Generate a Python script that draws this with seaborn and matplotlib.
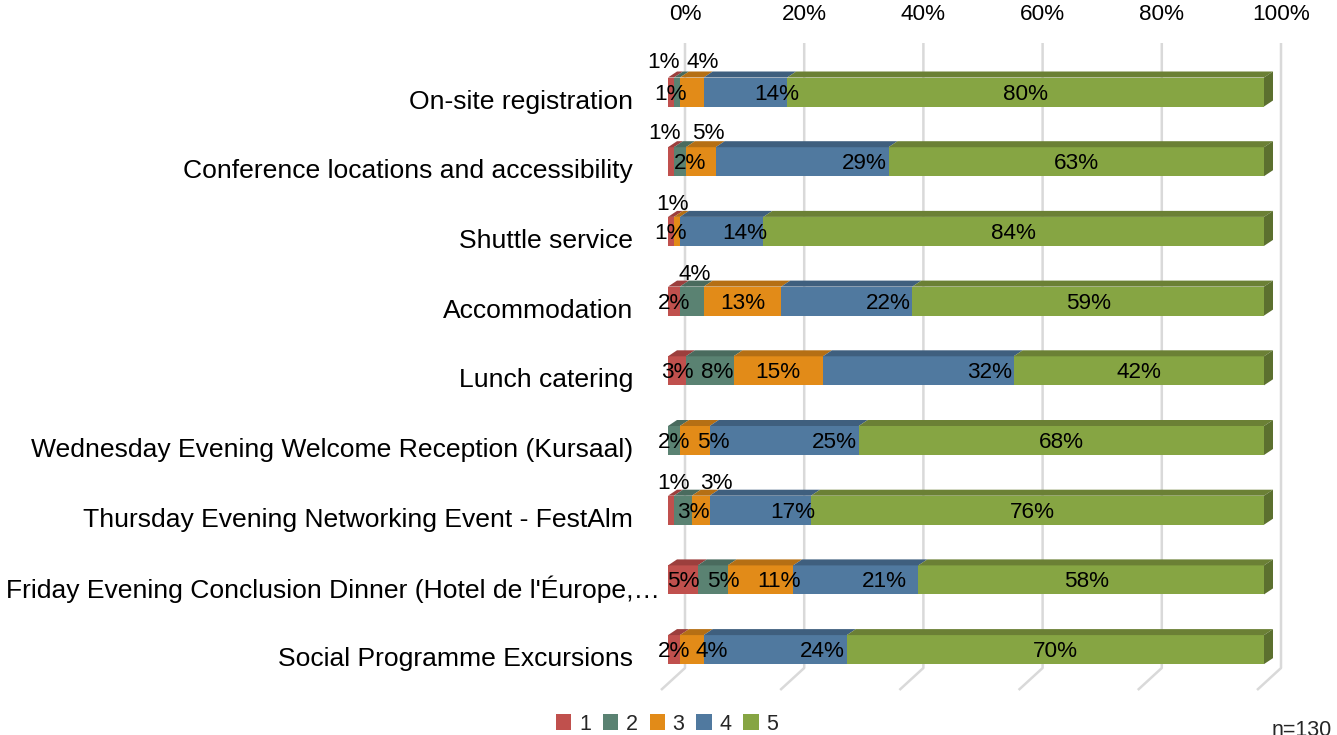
import matplotlib
matplotlib.use("Agg")
import matplotlib.pyplot as plt
from matplotlib.patches import Polygon, Patch
from matplotlib.transforms import ScaledTranslation
import numpy as np
import pandas as pd
import seaborn as sns

# ---- data -------------------------------------------------------------
categories = [
    "On-site registration",
    "Conference locations and accessibility",
    "Shuttle service",
    "Accommodation",
    "Lunch catering",
    "Wednesday Evening Welcome Reception (Kursaal)",
    "Thursday Evening Networking Event - FestAlm",
    "Friday Evening Conclusion Dinner (Hotel de l'Éurope,…",
    "Social Programme Excursions",
]
rating_1 = [1, 1, 1, 2, 3, 0, 1, 5, 2]
rating_2 = [1, 2, 0, 4, 8, 2, 3, 5, 0]
rating_3 = [4, 5, 1, 13, 15, 5, 3, 11, 4]
rating_4 = [14, 29, 14, 22, 32, 25, 17, 21, 24]
rating_5 = [80, 63, 84, 59, 42, 68, 76, 58, 70]
series_names = ["1", "2", "3", "4", "5"]
axis_ticks = [0, 20, 40, 60, 80, 100]
sample_note = "n=130"

# ---- style ------------------------------------------------------------
front_colors = ["#C0504D", "#5A8272", "#E28B18", "#50799F", "#86A543"]
top_colors = ["#9C3F3D", "#4A6B5E", "#B56F14", "#3F5F7E", "#6B8035"]
side_color = "#5C702F"
grid_color = "#D9D9D9"

sns.set_theme(style="white")
plt.rcParams["font.family"] = ["Liberation Sans", "DejaVu Sans"]

W, H, DPI = 1337, 735, 100
fig = plt.figure(figsize=(W / DPI, H / DPI), dpi=DPI)

# pixel geometry of the plotting frame
X0_PX, PX_PER_PCT = 668, 5.96          # 0% of the bar fronts, px per percent
Y0_PX, ROW_PX = 92, 69.7               # first bar centre, row pitch
AX_L, AX_R, AX_T, AX_B = 648, 1300, 43, 700
ax = fig.add_axes([AX_L / W, 1 - AX_B / H, (AX_R - AX_L) / W, (AX_B - AX_T) / H])

BAR_H = 29 / ROW_PX                    # bar thickness (category units)
DEPTH_DX = 9 / PX_PER_PCT              # 3-D depth offset of bars
DEPTH_DY = 6 / ROW_PX
WALL = 17 / PX_PER_PCT                 # back wall offset of gridlines
FLOOR_DX = 24 / PX_PER_PCT

series = [rating_1, rating_2, rating_3, rating_4, rating_5]
vals = np.array(series, dtype=float)          # shape (5, n)
cum = np.cumsum(vals, axis=0)
starts = cum - vals

# back wall + floor gridlines
y_top = (AX_T - Y0_PX) / ROW_PX
y_floor_back = (668 - Y0_PX) / ROW_PX
y_floor_front = (690 - Y0_PX) / ROW_PX
for v in axis_ticks:
    xb = v + WALL
    ax.plot([xb, xb, xb - FLOOR_DX], [y_top, y_floor_back, y_floor_front],
            color=grid_color, lw=1.8, zorder=0, solid_capstyle="butt",
            clip_on=False)

# front faces: stacked horizontal bars, drawn from the longest cumulative down
for k in range(4, -1, -1):
    df = pd.DataFrame({"category": categories, "value": cum[k]})
    sns.barplot(data=df, x="value", y="category", order=categories,
                orient="h", color=front_colors[k], saturation=1,
                width=BAR_H, linewidth=0, errorbar=None, ax=ax, zorder=2)

# top faces and right end face
n = len(categories)
for i in range(n):
    yb = i - BAR_H / 2
    yt = yb - DEPTH_DY
    last = None
    for k in range(5):
        if vals[k, i] <= 0:
            continue
        s, e = starts[k, i], cum[k, i]
        ax.add_patch(Polygon([(s, yb), (e, yb), (e + DEPTH_DX, yt), (s + DEPTH_DX, yt)],
                             closed=True, facecolor=top_colors[k], edgecolor="none",
                             zorder=3))
        last = e
    ax.add_patch(Polygon([(last, yb), (last + DEPTH_DX, yt),
                          (last + DEPTH_DX, yt + BAR_H), (last, yb + BAR_H)],
                         closed=True, facecolor=side_color, edgecolor="none", zorder=3))

# data labels: centred in segments (blue ones sit at the segment's inner end);
# small crowded labels are nudged aside or lifted above the bar
nudge_px = {
    (0, 0): (-7, 32), (0, 1): (-6, 0), (0, 2): (11, 32), (0, 3): (14, 0),
    (1, 0): (-6, 30), (1, 1): (10, 0), (1, 2): (8, 30),
    (2, 0): (2, 29), (2, 2): (-6, 0), (2, 3): (6, 0),
    (3, 1): (3, 29),
    (4, 1): (7, 0),
    (5, 2): (19, 0),
    (6, 0): (3, 29), (6, 1): (10, 0), (6, 2): (16, 29), (6, 3): (6, 0), (6, 4): (-5, 0),
    (7, 1): (11, 0), (7, 2): (19, 0), (7, 3): (-9, 0), (7, 4): (-5, 0),
    (8, 2): (20, 0),
}
PT = 72 / DPI
for i in range(n):
    for k in range(5):
        v = vals[k, i]
        if v <= 0:
            continue
        dx, dy = nudge_px.get((i, k), (0, 0))
        if k == 3:
            x, ha, dx = cum[k, i], "right", dx - 2
        else:
            x, ha = starts[k, i] + v / 2, "center"
        ax.annotate(f"{int(v)}%", (x, i), xytext=(dx * PT, (dy - 2) * PT),
                    textcoords="offset points", ha=ha, va="center",
                    fontsize=16.2, color="black", zorder=5)

# axes limits / ticks
ax.set_xlim((AX_L - X0_PX) / PX_PER_PCT, (AX_R - X0_PX) / PX_PER_PCT)
ax.set_ylim((AX_B - Y0_PX) / ROW_PX, (AX_T - Y0_PX) / ROW_PX)
for sp in ax.spines.values():
    sp.set_visible(False)
ax.set_xlabel("")
ax.set_ylabel("")
ax.grid(False)

ax.xaxis.tick_top()
ax.set_xticks([v + WALL for v in axis_ticks], labels=[f"{v}%" for v in axis_ticks])
ax.tick_params(axis="x", length=0, pad=13, labelsize=16.2, colors="black")

ax.set_yticks(range(n), labels=categories)
ax.tick_params(axis="y", length=0, pad=15 * PT, labelsize=19.05, colors="black")
for lab in ax.get_yticklabels():
    # the truncated (ellipsis) label runs slightly past the others
    dx_px = 27 if lab.get_text().endswith("…") else 0
    lab.set_transform(lab.get_transform()
                      + ScaledTranslation(dx_px / DPI, -7 / DPI, fig.dpi_scale_trans))

# legend
handles = [Patch(facecolor=c, edgecolor="none", label=s)
           for c, s in zip(front_colors, series_names)]
fig.legend(handles=handles, loc="center", bbox_to_anchor=(667 / W, 1 - 724 / H),
           ncol=5, frameon=False, fontsize=15.5, handlelength=0.72, handleheight=0.72,
           handletextpad=0.35, columnspacing=0.55, borderpad=0)

fig.text(1272 / W, 1 - 720 / H, sample_note, ha="left", va="top", fontsize=15.5)

fig.savefig("out.png", dpi=DPI)
